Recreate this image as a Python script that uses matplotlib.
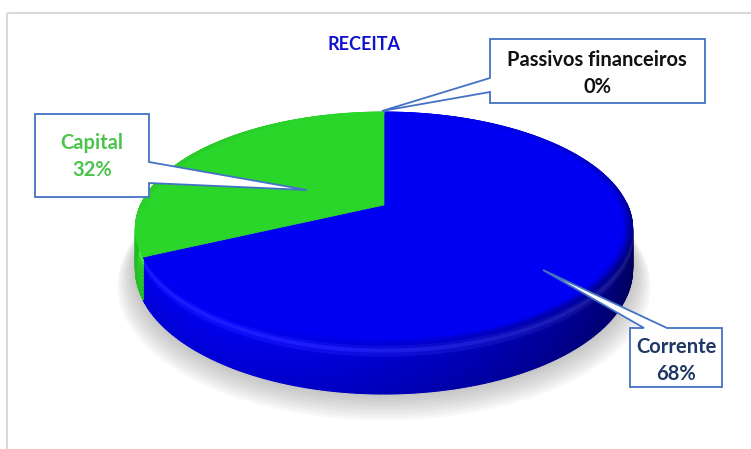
import numpy as np
import matplotlib.pyplot as plt
from matplotlib.collections import PolyCollection
from matplotlib.patches import Polygon

# data
labels = ['Corrente', 'Capital', 'Passivos financeiros']
values = [68, 32, 0]
slice_colors = [(0.0, 0.0, 0.95), (0.17, 0.84, 0.17), (0.6, 0.6, 0.6)]
title = 'RECEITA'

# pie geometry in pixel units (perspective disk)
cx, cy = 384, 205
A, B, k, D = 243.4, 111.8, 0.2017, 39.0


def proj(u, v, z=0.0):
    w = 1 + k * v
    return cx + A * u / w, cy - B * v / w + D * z / w


def shade(t):
    # light from front-left
    d = -0.8 * np.cos(t) - 0.6 * np.sin(t)
    return np.clip(0.64 + 0.38 * d, 0.42, 1.0)


fig = plt.figure(figsize=(7.51, 4.49), dpi=100)
ax = fig.add_axes([0, 0, 1, 1])
ax.set_xlim(0, 751)
ax.set_ylim(449, 0)
ax.axis('off')

# chart frame
ax.add_patch(Polygon([(7, 13), (760, 13), (760, 460), (7, 460)], closed=True,
                     fill=False, edgecolor='#d9d9d9', lw=1.5))

# slice angles (start at 12 o'clock, clockwise)
total = float(sum(values))
cum = np.concatenate([[0], np.cumsum(values)]) / total
angles = [(np.pi / 2 - 2 * np.pi * cum[i], np.pi / 2 - 2 * np.pi * cum[i + 1])
          for i in range(len(values))]

# soft shadow under the pie
ts = np.linspace(0, 2 * np.pi, 200)
for s in range(10, 0, -1):
    sc = 1 + 0.007 * s
    pts = [proj(sc * np.cos(t), sc * np.sin(t), 1.0) for t in ts]
    pts = [(x, y + 1.3 * s) for x, y in pts]
    ax.add_patch(Polygon(pts, closed=True, facecolor='#808080', alpha=0.05,
                         edgecolor='none', zorder=1))

# side walls (front half only)
polys, cols = [], []
zs = np.linspace(0, 1, 13)
for (a0, a1), col in zip(angles, slice_colors):
    if a0 == a1:
        continue
    tt = np.linspace(a0, a1, max(2, int(abs(a1 - a0) / 0.01)))
    for ta, tb in zip(tt[:-1], tt[1:]):
        tm = 0.5 * (ta + tb)
        if np.sin(tm) > 0.02:
            continue
        sh = shade(tm)
        for z0, z1 in zip(zs[:-1], zs[1:]):
            zm = 0.5 * (z0 + z1)
            hl = 0.22 * np.exp(-((zm - 0.13) / 0.09) ** 2)
            f = sh * (1.0 - 0.12 * zm)
            c = tuple(min(1, ch * f + hl * 0.5) for ch in col)
            polys.append([proj(np.cos(ta), np.sin(ta), z0), proj(np.cos(tb), np.sin(tb), z0),
                          proj(np.cos(tb), np.sin(tb), z1), proj(np.cos(ta), np.sin(ta), z1)])
            cols.append(c)
ax.add_collection(PolyCollection(polys, facecolors=cols, edgecolors=cols, lw=0.9, zorder=2))

# top faces
for (a0, a1), col in zip(angles, slice_colors):
    if a0 == a1:
        continue
    tt = np.linspace(a0, a1, 300)
    pts = [proj(0, 0)] + [proj(np.cos(t), np.sin(t)) for t in tt]
    ax.add_patch(Polygon(pts, closed=True, facecolor=col, edgecolor=col, lw=0.5, zorder=3))

    # bevel rim, mostly on the front and right
    rs = np.linspace(0.965, 1.0, 5)
    rp, rc = [], []
    for ta, tb in zip(tt[:-1], tt[1:]):
        tm = 0.5 * (ta + tb)
        sh = shade(tm)
        wgt = np.clip(0.6 - 0.6 * np.sin(tm), 0, 1)
        for r0, r1 in zip(rs[:-1], rs[1:]):
            m = (0.5 * (r0 + r1) - 0.965) / 0.035 * wgt
            f = (1 - m) + m * sh
            c = tuple(min(1, ch * f) for ch in col)
            rp.append([proj(r0 * np.cos(ta), r0 * np.sin(ta)), proj(r0 * np.cos(tb), r0 * np.sin(tb)),
                       proj(r1 * np.cos(tb), r1 * np.sin(tb)), proj(r1 * np.cos(ta), r1 * np.sin(ta))])
            rc.append(c)
    ax.add_collection(PolyCollection(rp, facecolors=rc, edgecolors=rc, lw=0.6, zorder=4))

# callouts
box_edge = '#4472C4'
callouts = [
    [(35, 114), (149, 114), (149, 162), (307, 190), (149, 183), (149, 197), (35, 197)],
    [(490, 39), (705, 39), (705, 103), (490, 103), (490, 92), (382, 111), (490, 78)],
    [(630, 328), (644, 328), (543, 270), (667, 328), (722, 328), (722, 387), (630, 387)],
]
for pts in callouts:
    ax.add_patch(Polygon(pts, closed=True, facecolor='white', edgecolor=box_edge,
                         lw=1.3, zorder=6, joinstyle='miter'))

fam = ['Lato', 'DejaVu Sans']
text_pos = {'Capital': (92, 143, 170, '#4cc44c'),
            'Passivos financeiros': (597, 60, 87, '#111111'),
            'Corrente': (676, 347, 374, '#1f3864')}
for lab, val in zip(labels, values):
    x, y1, y2, c = text_pos[lab]
    ax.text(x, y1, lab, ha='center', va='center', fontsize=14.5, fontweight='bold',
            color=c, family=fam, zorder=7)
    ax.text(x, y2, '%d%%' % val, ha='center', va='center', fontsize=14.5, fontweight='bold',
            color=c, family=fam, zorder=7)

ax.text(364, 44, title, ha='center', va='center', fontsize=13, fontweight='bold',
        color='#1010d0', family=fam)

fig.savefig('out.png', dpi=100)
